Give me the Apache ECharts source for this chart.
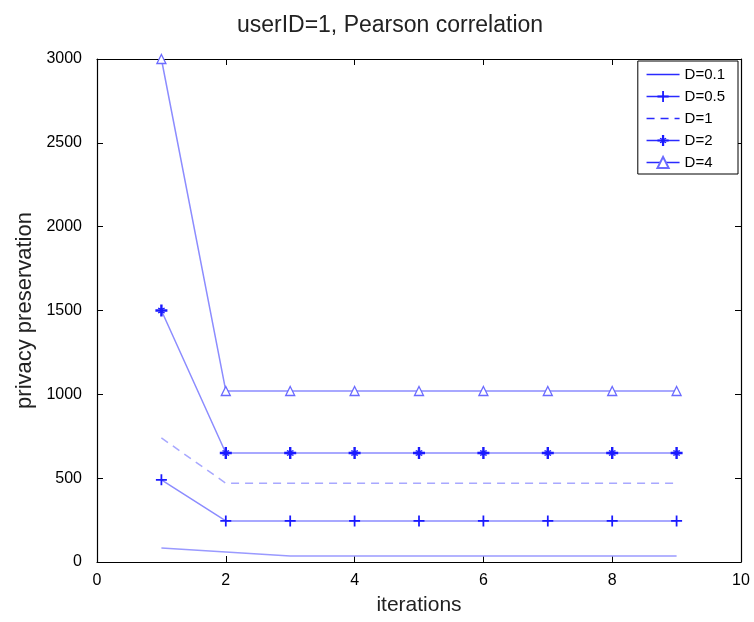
<!DOCTYPE html>
<html><head><meta charset="utf-8">
<script src="https://cdn.jsdelivr.net/npm/echarts@6/dist/echarts.min.js"></script>
<style>html,body{margin:0;padding:0;background:#fff}#c{width:754px;height:622px}</style>
</head><body><div id="c"></div>
<script>
const iterations = [1,2,3,4,5,6,7,8,9];
const seriesNames = ['D=0.1','D=0.5','D=1','D=2','D=4'];
const d01 = [83,60,36,36,36,36,36,36,36];
const d05 = [490,245,245,245,245,245,245,245,245];
const d1  = [740,470,470,470,470,470,470,470,470];
const d2  = [1500,650,650,650,650,650,650,650,650];
const d4  = [3000,1020,1020,1020,1020,1020,1020,1020,1020];
const xTicks = [0,2,4,6,8,10];
const yTicks = [0,500,1000,1500,2000,2500,3000];

const pair = arr => iterations.map((x,i)=>[x,arr[i]]);
const plusPath = 'path://M4.2,0H5.8V4.2H10V5.8H5.8V10H4.2V5.8H0V4.2H4.2Z';
const starPath = 'path://M4,0H6V3.2L7.5,2.5L8,3.5L6,4H10V6H6L8,6.5L7.5,7.5L6,6.8V10H4V6.8L2.5,7.5L2,6.5L4,6H0V4H4L2,3.5L2.5,2.5L4,3.2Z';
const lineCol = '#8c8cff';
const markCol = '#1a1aff';
const font = 'Liberation Sans, Arial, sans-serif';

const chart = echarts.init(document.getElementById('c'));
const axisCommon = {
  axisLine:{show:true,onZero:false,lineStyle:{color:'#000',width:1.2}},
  axisTick:{show:true,inside:true,length:6,lineStyle:{color:'#000'}},
  splitLine:{show:false}
};
const hideSym = {opacity:0};
chart.setOption({
  animation:false,
  backgroundColor:'#fff',
  title:{text:'userID=1, Pearson correlation',left:385,textAlign:'center',top:9,
    textStyle:{fontFamily:font,fontWeight:'normal',fontSize:23,color:'#222'}},
  legend:{
    data:[
      {name:'D=0.1',itemStyle:hideSym},
      {name:'D=0.5'},
      {name:'D=1',itemStyle:hideSym},
      {name:'D=2'},
      {name:'D=4'}
    ],
    orient:'vertical', right:16, top:61,
    backgroundColor:'#fff', borderColor:'#000', borderWidth:1,
    padding:[6,13,4,8], itemGap:7, itemWidth:33, itemHeight:14,
    lineStyle:{color:'#2a2aff',width:1.5},
    textStyle:{fontFamily:font,fontSize:15,color:'#000'}
  },
  grid:{left:97,right:13,top:59,bottom:60},
  xAxis:[
    Object.assign({type:'value',min:0,max:10,interval:2,position:'bottom',
      name:'iterations',nameLocation:'middle',nameGap:33,
      nameTextStyle:{fontFamily:font,fontSize:21,color:'#222'},
      axisLabel:{fontFamily:font,fontSize:16,color:'#000',margin:11,
        formatter:v=>xTicks.includes(v)?String(v):''}},axisCommon),
    Object.assign({type:'value',min:0,max:10,interval:2,position:'top',
      axisLabel:{show:false}},axisCommon)
  ],
  yAxis:[
    Object.assign({type:'value',min:0,max:3000,interval:500,position:'left',
      name:'privacy preservation',nameLocation:'middle',nameGap:60,
      nameTextStyle:{fontFamily:font,fontSize:22,color:'#222'},
      axisLabel:{fontFamily:font,fontSize:16,color:'#000',margin:15,
        formatter:v=>yTicks.includes(v)?String(v):''}},axisCommon),
    Object.assign({type:'value',min:0,max:3000,interval:500,position:'right',
      axisLabel:{show:false}},axisCommon)
  ],
  series:[
    {name:'D=0.1',type:'line',data:pair(d01),showSymbol:false,symbol:'none',
      lineStyle:{color:'#9a9aff',width:1.5},itemStyle:{color:'#3a3aff'}},
    {name:'D=0.5',type:'line',data:pair(d05),symbol:plusPath,symbolSize:11,
      lineStyle:{color:lineCol,width:1.5},itemStyle:{color:markCol}},
    {name:'D=1',type:'line',data:pair(d1),symbol:'none',
      lineStyle:{color:'#a8a8ff',width:1.5,type:[8,6]},itemStyle:{color:'#3a3aff'}},
    {name:'D=2',type:'line',data:pair(d2),symbol:starPath,symbolSize:12,
      lineStyle:{color:lineCol,width:1.5},itemStyle:{color:markCol}},
    {name:'D=4',type:'line',data:pair(d4),symbol:'triangle',symbolSize:9,
      lineStyle:{color:lineCol,width:1.5},itemStyle:{color:'#fff',borderColor:'#6a6aff',borderWidth:1.3}}
  ]
});
</script></body></html>
